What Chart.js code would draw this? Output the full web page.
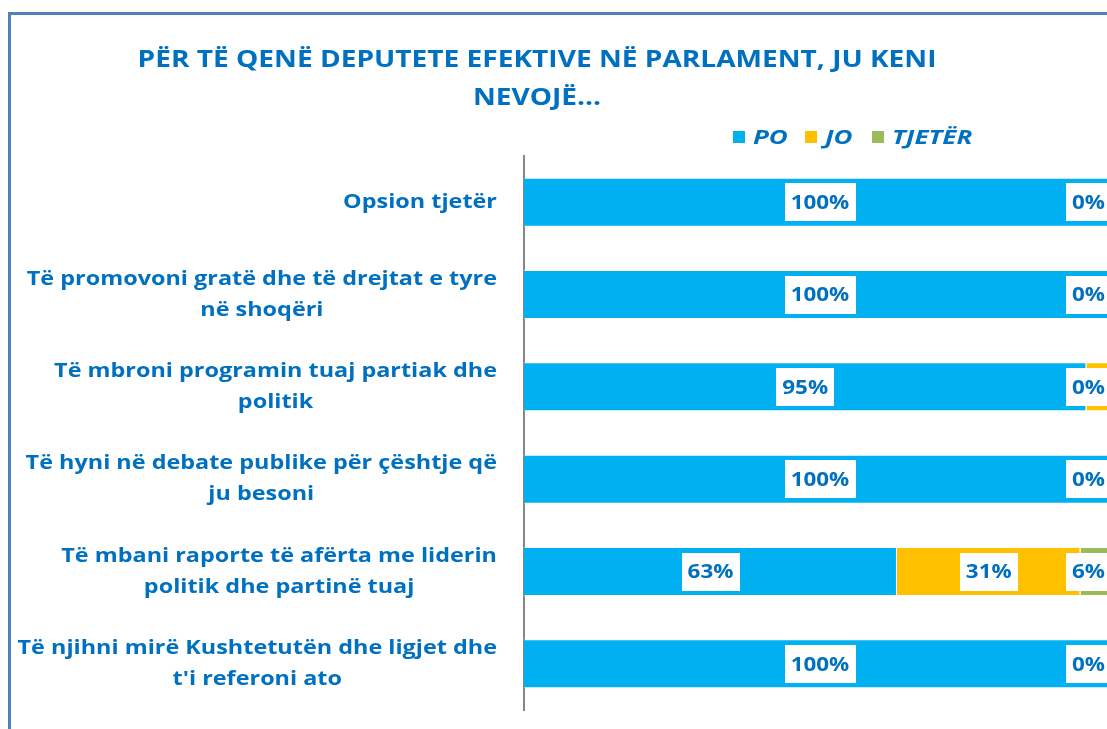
<!DOCTYPE html>
<html>
<head>
<meta charset="utf-8">
<script src="https://cdn.jsdelivr.net/npm/chart.js@4.4.1/dist/chart.umd.min.js"></script>
<style>
  html, body { margin:0; padding:0; background:#fff; width:1107px; height:729px; overflow:hidden; }
  #wrap { position:absolute; left:0; top:0; width:1107px; height:729px; overflow:hidden; }
  #frame { position:absolute; left:8px; top:12px; width:1200px; height:800px; border:3px solid #4F81BD; box-sizing:border-box; }
  canvas { position:absolute; left:0; top:0; }
</style>
</head>
<body>
<div id="wrap">
  <div id="frame"></div>
  <canvas id="c" width="1130" height="729"></canvas>
</div>
<script>
const titleLines = ["PËR TË QENË DEPUTETE EFEKTIVE NË PARLAMENT, JU KENI", "NEVOJË..."];
const categories = [
  ["Opsion tjetër"],
  ["Të promovoni gratë dhe të drejtat e tyre", "në shoqëri"],
  ["Të mbroni programin tuaj partiak dhe", "politik"],
  ["Të hyni në debate publike për çështje që", "ju besoni"],
  ["Të mbani raporte të afërta me liderin", "politik dhe partinë tuaj"],
  ["Të njihni mirë Kushtetutën dhe ligjet dhe", "t'i referoni ato"]
];
const seriesNames = ["PO", "JO", "TJETËR"];
const poValues = [100, 100, 95, 100, 63, 100];
const joValues = [0, 0, 5, 0, 31, 0];
const tjeterValues = [0, 0, 0, 0, 6, 0];
const seriesColors = ["#00B0F0", "#FFC000", "#9BBB59"];

const TEXT_BLUE = "#0070C0";
const FONT = "'Open Sans'";

// draw text stretched horizontally by sx, anchored per ctx.textAlign
function stretchText(ctx, txt, x, y, sx) {
  ctx.save();
  ctx.translate(x, y);
  ctx.scale(sx, 1);
  ctx.fillText(txt, 0, 0);
  ctx.restore();
}

const customDraw = {
  id: 'customDraw',
  afterDatasetsDraw(chart) {
    const ctx = chart.ctx;
    ctx.save();
    ctx.font = `bold 20px ${FONT}`;
    ctx.textBaseline = 'middle';
    ctx.textAlign = 'center';
    const SX = 1.12;
    const limitRight = 1111;
    chart.data.datasets.forEach((ds, di) => {
      const meta = chart.getDatasetMeta(di);
      meta.data.forEach((el, i) => {
        const v = ds.data[i];
        const txt = v + '%';
        const tw = ctx.measureText(txt).width * SX;
        const w = tw + 12, h = 38;
        let cx = (el.x + el.base) / 2;
        if (cx + w / 2 > limitRight) cx = limitRight - w / 2;
        const cy = el.y;
        ctx.fillStyle = '#ffffff';
        ctx.fillRect(Math.round(cx - w / 2), Math.round(cy - h / 2), Math.round(w), h);
        ctx.fillStyle = TEXT_BLUE;
        stretchText(ctx, txt, cx, cy + 1, SX);
      });
    });
    ctx.restore();
  },
  afterDraw(chart) {
    const ctx = chart.ctx;
    ctx.save();
    // title
    ctx.fillStyle = TEXT_BLUE;
    ctx.font = `bold 24px ${FONT}`;
    ctx.textAlign = 'center';
    ctx.textBaseline = 'middle';
    titleLines.forEach((t, i) => stretchText(ctx, t, 537, 60 + i * 38, 1.17));
    // legend
    ctx.font = `italic bold 20px ${FONT}`;
    ctx.textAlign = 'left';
    const legendX = [733, 805, 872];
    chart.data.datasets.forEach((ds, i) => {
      ctx.fillStyle = ds.backgroundColor;
      ctx.fillRect(legendX[i], 131, 12, 12);
      ctx.fillStyle = TEXT_BLUE;
      stretchText(ctx, ds.label, legendX[i] + 20, 138, 1.3);
    });
    // category labels
    const yScale = chart.scales.y;
    ctx.font = `bold 20px ${FONT}`;
    ctx.textAlign = 'center';
    const SXL = 1.17;
    const rightEdge = 497;
    chart.data.labels.forEach((lab, i) => {
      const lines = Array.isArray(lab) ? lab : [lab];
      const cy = yScale.getPixelForValue(i);
      const maxW = Math.max(...lines.map(l => ctx.measureText(l).width)) * SXL;
      const cx = rightEdge - maxW / 2;
      const lh = 31;
      lines.forEach((l, j) => {
        stretchText(ctx, l, cx, cy + (j - (lines.length - 1) / 2) * lh, SXL);
      });
    });
    ctx.restore();
  }
};

const datasets = [poValues, joValues, tjeterValues].map((vals, i) => ({
  label: seriesNames[i],
  data: vals,
  backgroundColor: seriesColors[i],
  borderColor: 'rgba(255,255,255,0.45)',
  borderWidth: 1,
  categoryPercentage: 1,
  barPercentage: 0.53
}));

new Chart(document.getElementById('c'), {
  type: 'bar',
  data: { labels: categories, datasets },
  options: {
    indexAxis: 'y',
    responsive: false,
    animation: false,
    layout: { padding: { top: 156, bottom: 19, right: 14, left: 0 } },
    plugins: { legend: { display: false }, title: { display: false }, tooltip: { enabled: false } },
    scales: {
      x: { stacked: true, min: 0, max: 100, display: false },
      y: {
        stacked: true,
        ticks: { display: false },
        grid: { display: false },
        border: { display: true, color: '#868686', width: 2 },
        afterFit(scale) { scale.width = 524; }
      }
    }
  },
  plugins: [customDraw]
});
</script>
</body>
</html>
